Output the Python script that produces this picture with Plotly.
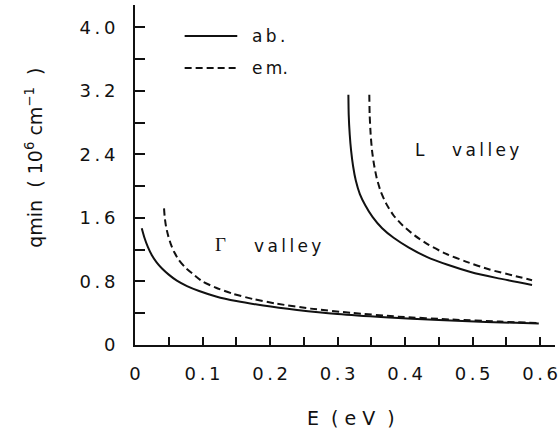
import plotly.graph_objects as go

# ---- data ----
gamma_ab_E = [0.010, 0.014, 0.019, 0.025, 0.032, 0.040, 0.050, 0.062, 0.077, 0.095, 0.12, 0.15, 0.19, 0.24, 0.30, 0.37, 0.45, 0.52, 0.598]
gamma_ab_q = [1.47, 1.35, 1.236, 1.13, 1.04, 0.963, 0.886, 0.81, 0.742, 0.68, 0.611, 0.553, 0.497, 0.442, 0.39, 0.349, 0.314, 0.291, 0.27]

gamma_em_E = [0.043, 0.044, 0.046, 0.049, 0.053, 0.058, 0.065, 0.074, 0.085, 0.10, 0.12, 0.145, 0.175, 0.21, 0.26, 0.32, 0.39, 0.47, 0.54, 0.598]
gamma_em_q = [1.72, 1.61, 1.49, 1.38, 1.27, 1.17, 1.07, 0.98, 0.90, 0.80, 0.72, 0.645, 0.578, 0.52, 0.458, 0.405, 0.357, 0.32, 0.295, 0.275]

L_ab_E = [0.316, 0.3165, 0.318, 0.320, 0.323, 0.327, 0.333, 0.341, 0.352, 0.366, 0.383, 0.405, 0.432, 0.463, 0.497, 0.535, 0.588]
L_ab_q = [3.15, 2.90, 2.65, 2.45, 2.25, 2.07, 1.90, 1.76, 1.61, 1.47, 1.35, 1.23, 1.11, 1.01, 0.92, 0.845, 0.756]

L_em_E = [0.347, 0.3475, 0.349, 0.351, 0.354, 0.358, 0.364, 0.372, 0.383, 0.397, 0.414, 0.435, 0.46, 0.49, 0.525, 0.56, 0.588]
L_em_q = [3.15, 2.90, 2.65, 2.45, 2.27, 2.10, 1.93, 1.78, 1.63, 1.50, 1.38, 1.26, 1.15, 1.05, 0.95, 0.875, 0.815]

TS = "\u2009"  # thin space (the reference lettering is widely spaced)
x_tickvals = [0, 0.1, 0.2, 0.3, 0.4, 0.5, 0.6]
x_ticktext = ["0"] + [f"0{TS}.{TS}{d}" for d in "123456"]
y_tickvals = [0, 0.8, 1.6, 2.4, 3.2, 4.0]
y_ticktext = ["0", f"0{TS}.{TS}8", f"1{TS}.{TS}6", f"2{TS}.{TS}4", f"3{TS}.{TS}2", f"4{TS}.{TS}0"]

FONT = "DejaVu Sans, Verdana, sans-serif"
BLACK = "#111111"
NB = "\u00a0"

fig = go.Figure()
line_solid = dict(color=BLACK, width=2, shape="spline", smoothing=0.6)
line_dash = dict(color=BLACK, width=2, shape="spline", smoothing=0.6, dash="7px,4px")

fig.add_trace(go.Scatter(x=gamma_ab_E, y=gamma_ab_q, mode="lines", line=line_solid, name="ab."))
fig.add_trace(go.Scatter(x=gamma_em_E, y=gamma_em_q, mode="lines", line=line_dash, name="em."))
fig.add_trace(go.Scatter(x=L_ab_E, y=L_ab_q, mode="lines", line=line_solid, name="ab. L"))
fig.add_trace(go.Scatter(x=L_em_E, y=L_em_q, mode="lines", line=line_dash, name="em. L"))

W, H = 558, 433
L_M, R_M, T_M, B_M = 135, 0, 5, 88
pw, ph = W - L_M - R_M, H - T_M - B_M

def px2paper(xp, yp):
    return (xp - L_M) / pw, (H - B_M - yp) / ph

fig.update_layout(
    width=W, height=H,
    margin=dict(l=L_M, r=R_M, t=T_M, b=B_M),
    paper_bgcolor="white", plot_bgcolor="white",
    showlegend=False,
    font=dict(family=FONT, size=17, color=BLACK),
)

fig.update_xaxes(
    range=[0, 0.622], showgrid=False, zeroline=False,
    showline=True, linecolor=BLACK, linewidth=2,
    ticks="inside", ticklen=8, tickwidth=2, tickcolor=BLACK,
    tickvals=x_tickvals, ticktext=x_ticktext,
    minor=dict(dtick=0.05, tick0=0, ticks="inside", ticklen=8, tickwidth=1.5, tickcolor=BLACK),
    tickfont=dict(size=18, family=FONT, color=BLACK),
    ticklabelstandoff=11, ticklabeloverflow="allow",
)
fig.update_yaxes(
    range=[0, 4.28], showgrid=False, zeroline=False,
    showline=True, linecolor=BLACK, linewidth=2,
    ticks="inside", ticklen=10, tickwidth=2, tickcolor=BLACK,
    tickvals=y_tickvals, ticktext=y_ticktext,
    minor=dict(dtick=0.4, tick0=0, ticks="inside", ticklen=10, tickwidth=1.5, tickcolor=BLACK),
    tickfont=dict(size=18, family=FONT, color=BLACK),
    ticklabelstandoff=14, ticklabeloverflow="allow",
)

ann = []
# axis titles
x0, y0 = px2paper(353, 418)
ann.append(dict(xref="paper", yref="paper", x=x0, y=y0, showarrow=False,
                text="E" + NB * 2 + "(" + NB + "e" + NB + "V" + NB * 2 + ")",
                font=dict(size=19, family=FONT, color=BLACK), xanchor="center", yanchor="middle"))
x0, y0 = px2paper(33, 158)
ann.append(dict(xref="paper", yref="paper", x=x0, y=y0, showarrow=False, textangle=-90,
                text="qmin" + NB * 2 + "(" + NB + "10<sup>6</sup>" + NB + "cm<sup>\u22121</sup>" + NB * 2 + ")",
                font=dict(size=19, family=FONT, color=BLACK), xanchor="center", yanchor="middle"))
# valley labels
ann.append(dict(x=0.127, y=1.26, showarrow=False, text="\u0393",
                font=dict(size=19, family="Liberation Serif, Times New Roman, serif", color=BLACK),
                xanchor="center", yanchor="middle"))
ann.append(dict(x=0.174, y=1.25, showarrow=False, text=TS.join("valley"),
                font=dict(size=17, family=FONT, color=BLACK), xanchor="left", yanchor="middle"))
ann.append(dict(x=0.422, y=2.46, showarrow=False, text="L",
                font=dict(size=17, family=FONT, color=BLACK), xanchor="center", yanchor="middle"))
ann.append(dict(x=0.466, y=2.45, showarrow=False, text=TS.join("valley"),
                font=dict(size=17, family=FONT, color=BLACK), xanchor="left", yanchor="middle"))

# legend (drawn manually)
shapes = []
for ypx, dash, label in [(36, "solid", f"a{TS}b{TS}."), (68, "7px,4px", f"e{TS}m.")]:
    xa, ya = px2paper(185, ypx)
    xb, _ = px2paper(238, ypx)
    shapes.append(dict(type="line", xref="paper", yref="paper", x0=xa, x1=xb, y0=ya, y1=ya,
                       line=dict(color=BLACK, width=2, dash=dash)))
    xt, _ = px2paper(251, ypx)
    ann.append(dict(xref="paper", yref="paper", x=xt, y=ya, showarrow=False, text=label,
                    font=dict(size=17, family=FONT, color=BLACK), xanchor="left", yanchor="middle"))

fig.update_layout(annotations=ann, shapes=shapes)

fig.write_html("out.html")
